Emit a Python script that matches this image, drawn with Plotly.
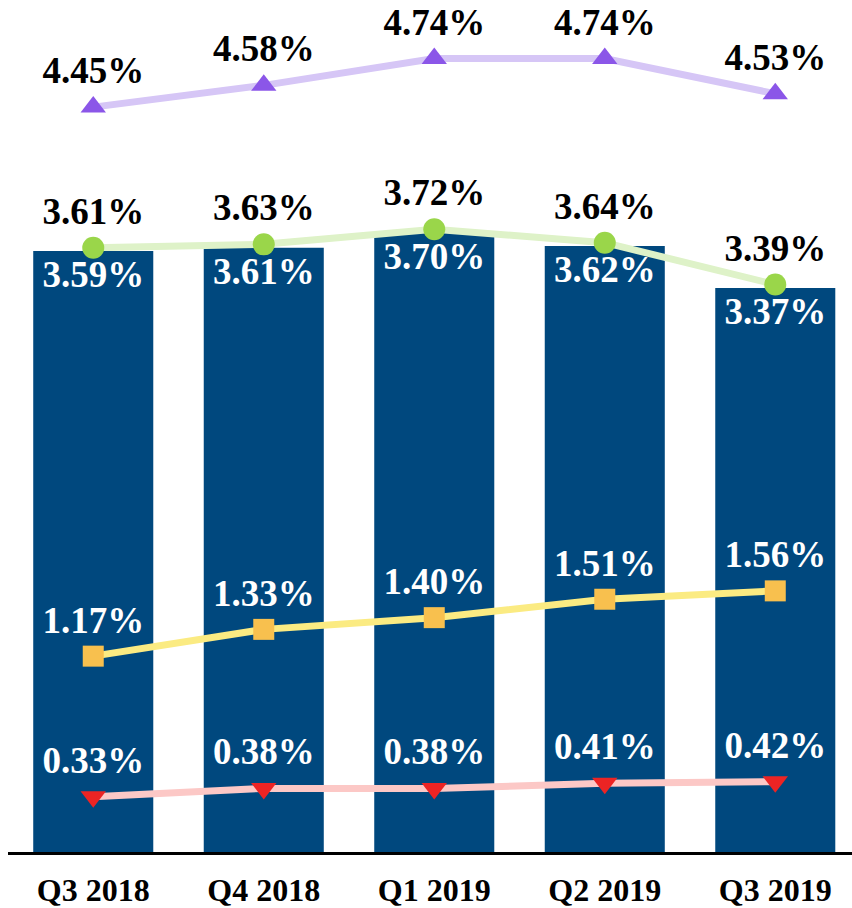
import plotly.graph_objects as go

categories = ["Q3 2018", "Q4 2018", "Q1 2019", "Q2 2019", "Q3 2019"]
bar_values = [3.59, 3.61, 3.70, 3.62, 3.37]
purple_values = [4.45, 4.58, 4.74, 4.74, 4.53]
green_values = [3.61, 3.63, 3.72, 3.64, 3.39]
yellow_values = [1.17, 1.33, 1.40, 1.51, 1.56]
red_values = [0.33, 0.38, 0.38, 0.41, 0.42]

FONT = "Liberation Serif, Times New Roman, serif"
LBL = 37

def pct(v):
    return [f"{x:.2f}%" for x in v]

fig = go.Figure()
fig.add_trace(go.Bar(
    x=categories, y=bar_values, marker=dict(color="#00487e", line=dict(width=0)),
    width=0.704, text=pct(bar_values), textposition="inside", insidetextanchor="end",
    constraintext="none", textangle=0,
    textfont=dict(family=FONT, size=LBL, color="white", weight="bold"),
    cliponaxis=False,
))

def line(vals, lc, mc, sym, tc, msize=22):
    fig.add_trace(go.Scatter(
        x=categories, y=vals, mode="lines+markers+text",
        line=dict(color=lc, width=7),
        marker=dict(color=mc, symbol=sym, size=msize, line=dict(width=0)),
        text=pct(vals), textposition="top center",
        textfont=dict(family=FONT, size=LBL, color=tc, weight="bold"),
        cliponaxis=False,
    ))

line(purple_values, "#d6c6f6", "#8b56e8", "triangle-up", "black")
line(green_values, "#def2c8", "#9ad64a", "circle", "black")
line(yellow_values, "#fbeb82", "#f8c04e", "square", "white", 21)
line(red_values, "#fcc8c6", "#ec2424", "triangle-down", "white")

fig.update_layout(
    width=852, height=908, showlegend=False, hovermode=False,
    plot_bgcolor="white", paper_bgcolor="white",
    margin=dict(l=8, r=0, t=8, b=56, autoexpand=False),
    xaxis=dict(range=[-0.5, 4.45], showgrid=False, showline=True, linecolor="black",
               linewidth=3, ticks="", automargin=False, ticklabelstandoff=8,
               tickfont=dict(family=FONT, size=32, color="black", weight="bold")),
    yaxis=dict(range=[0, 5.042], visible=False, showgrid=False, zeroline=False),
)
fig.write_html(
    "out.html",
    config={"displayModeBar": False},
    post_script="document.body.style.margin='0';document.body.style.overflow='hidden';",
)
